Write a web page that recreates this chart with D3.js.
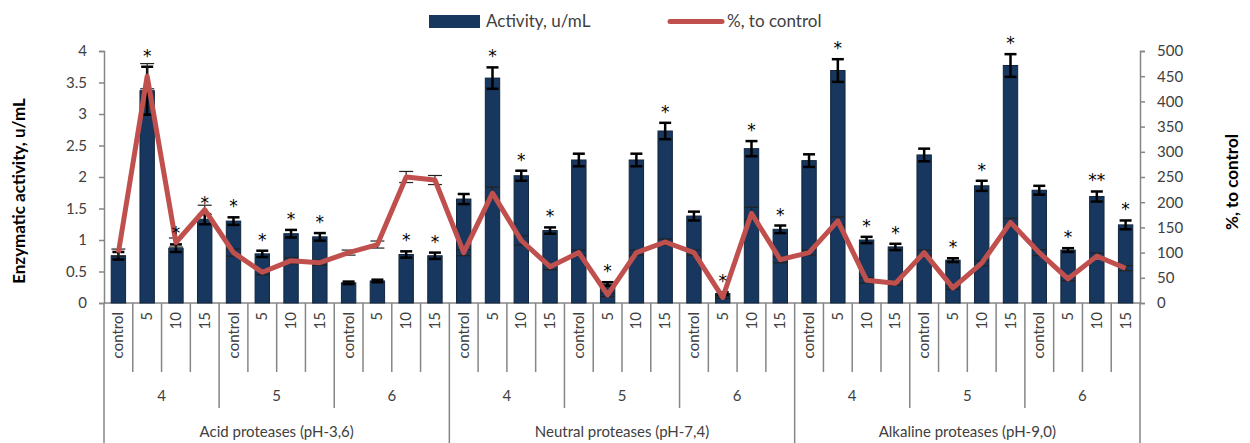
<!DOCTYPE html>
<html>
<head>
<meta charset="utf-8">
<script src="https://cdn.jsdelivr.net/npm/d3@7"></script>
<style>
  body { margin: 0; background: #fff; }
  svg text { font-family: Lato, "Open Sans", sans-serif; }
</style>
</head>
<body>
<div id="chart"></div>
<script>
// chart values
var groups = ["Acid proteases (pH-3,6)", "Neutral proteases (pH-7,4)", "Alkaline proteases (pH-9,0)"];
var phLevels = ["4", "5", "6"];
var conditions = ["control", "5", "10", "15"];

var activity = [
    0.75, 3.37, 0.87, 1.33, 1.30, 0.78, 1.10, 1.05, 0.32, 0.35, 0.77, 0.75,
    1.65, 3.57, 2.02, 1.15, 2.27, 0.30, 2.27, 2.73, 1.38, 0.15, 2.45, 1.17,
    2.26, 3.69, 1.00, 0.89, 2.35, 0.68, 1.86, 3.77, 1.79, 0.84, 1.69, 1.24
];
var activityErr = [
    0.06, 0.38, 0.06, 0.08, 0.06, 0.05, 0.06, 0.06, 0.02, 0.02, 0.05, 0.05,
    0.08, 0.17, 0.08, 0.05, 0.10, 0.03, 0.10, 0.13, 0.07, 0.02, 0.12, 0.06,
    0.10, 0.18, 0.05, 0.05, 0.10, 0.03, 0.08, 0.18, 0.07, 0.03, 0.08, 0.07
];
var percent = [
    100, 450, 120, 185, 100, 61, 84, 80, 100, 116, 250, 244,
    100, 218, 124, 72, 100, 16, 100, 121, 100, 11, 178, 86,
    100, 163, 45, 39, 100, 30, 79, 160, 100, 48, 93, 69
];
var percentErr = [
    7, 25, 9, 9, 7, 5, 6, 5, 5, 7, 11, 9,
    6, 12, 9, 6, 5, 3, 5, 6, 5, 2, 12, 6,
    5, 8, 5, 4, 5, 3, 5, 8, 6, 4, 6, 5
];
var stars = [
    "", "*", "*", "*", "*", "*", "*", "*", "", "", "*", "*",
    "", "*", "*", "*", "", "*", "", "*", "", "*", "*", "*",
    "", "*", "*", "*", "", "*", "*", "*", "", "*", "**", "*"
];

var W = 1250, H = 443;
var pLeft = 104, pRight = 1140, pTop = 51, pBottom = 303;
var axisColor = "#868686", textColor = "#404040";
var barColor = "#17375E", lineColor = "#C0504D";

var svg = d3.select("#chart").append("svg")
    .attr("width", W)
    .attr("height", H);

var idx = d3.range(activity.length);

var x = d3.scaleBand()
    .domain(idx)
    .range([pLeft, pRight])
    .paddingInner(0.5)
    .paddingOuter(0.25);
var step = (pRight - pLeft) / idx.length;
function cx(i) { return pLeft + step * (i + 0.5); }

var y = d3.scaleLinear().domain([0, 4]).range([pBottom, pTop]);
var y2 = d3.scaleLinear().domain([0, 500]).range([pBottom, pTop]);

// left axis
var yAxis = svg.append("g")
    .attr("transform", "translate(" + pLeft + ",0)")
    .call(d3.axisLeft(y).tickValues(d3.range(0, 4.01, 0.5)).tickSize(5).tickPadding(12)
        .tickFormat(function(d) { return d3.format("")(d); }));
// right axis
var yAxis2 = svg.append("g")
    .attr("transform", "translate(" + pRight + ",0)")
    .call(d3.axisRight(y2).tickValues(d3.range(0, 501, 50)).tickSize(5).tickPadding(12));

[yAxis, yAxis2].forEach(function(ax) {
    ax.select(".domain").attr("stroke", axisColor).attr("stroke-width", 1.5);
    ax.selectAll(".tick line").attr("stroke", axisColor).attr("stroke-width", 1.5);
    ax.selectAll(".tick text")
        .attr("fill", textColor)
        .style("font-size", "15px")
        .style("font-family", "Lato, sans-serif");
});

// x axis baseline + category separators
var xg = svg.append("g");
xg.append("line")
    .attr("x1", pLeft).attr("x2", pRight)
    .attr("y1", pBottom).attr("y2", pBottom)
    .attr("stroke", axisColor).attr("stroke-width", 1.5);

xg.selectAll("line.sep")
    .data(d3.range(idx.length + 1))
    .enter().append("line")
    .attr("class", "sep")
    .attr("x1", function(i) { return pLeft + step * i; })
    .attr("x2", function(i) { return pLeft + step * i; })
    .attr("y1", pBottom)
    .attr("y2", function(i) {
        if (i % 12 == 0) return H;
        if (i % 4 == 0) return 408;
        return 372;
    })
    .attr("stroke", axisColor).attr("stroke-width", 1.5);

// condition labels (rotated)
xg.selectAll("text.cond")
    .data(idx)
    .enter().append("text")
    .attr("class", "cond")
    .attr("transform", function(i) { return "translate(" + (cx(i) + 5) + "," + (pBottom + 9) + ") rotate(-90)"; })
    .attr("text-anchor", "end")
    .attr("fill", textColor)
    .style("font-size", "15px")
    .text(function(i) { return conditions[i % 4]; });

// pH labels
xg.selectAll("text.ph")
    .data(d3.range(9))
    .enter().append("text")
    .attr("class", "ph")
    .attr("x", function(j) { return pLeft + step * (j * 4 + 2); })
    .attr("y", 401)
    .attr("text-anchor", "middle")
    .attr("fill", textColor)
    .style("font-size", "15px")
    .text(function(j) { return phLevels[j % 3]; });

// group labels
xg.selectAll("text.grp")
    .data(groups)
    .enter().append("text")
    .attr("class", "grp")
    .attr("x", function(d, j) { return pLeft + step * (j * 12 + 6); })
    .attr("y", 437)
    .attr("text-anchor", "middle")
    .attr("fill", textColor)
    .style("font-size", "15px")
    .text(function(d) { return d; });

// bars
svg.append("g").selectAll("rect")
    .data(idx)
    .enter().append("rect")
    .attr("x", function(i) { return x(i); })
    .attr("width", x.bandwidth())
    .attr("y", function(i) { return y(activity[i]); })
    .attr("height", function(i) { return pBottom - y(activity[i]); })
    .attr("fill", barColor)
    .attr("stroke", "#10263f")
    .attr("stroke-width", 1);

// bar error bars
var be = svg.append("g").attr("stroke", "#000").attr("stroke-width", 2.5);
idx.forEach(function(i) {
    var c = cx(i), lo = y(activity[i] - activityErr[i]), hi = y(activity[i] + activityErr[i]);
    be.append("line").attr("x1", c).attr("x2", c).attr("y1", lo).attr("y2", hi);
    be.append("line").attr("x1", c - 6).attr("x2", c + 6).attr("y1", hi).attr("y2", hi);
    be.append("line").attr("x1", c - 6).attr("x2", c + 6).attr("y1", lo).attr("y2", lo);
});

// line error bars (thin)
var le = svg.append("g").attr("stroke", "#222").attr("stroke-width", 1.2);
idx.forEach(function(i) {
    var c = cx(i), lo = y2(percent[i] - percentErr[i]), hi = y2(percent[i] + percentErr[i]);
    le.append("line").attr("x1", c).attr("x2", c).attr("y1", lo).attr("y2", hi);
    le.append("line").attr("x1", c - 7).attr("x2", c + 7).attr("y1", hi).attr("y2", hi);
    le.append("line").attr("x1", c - 7).attr("x2", c + 7).attr("y1", lo).attr("y2", lo);
});

// % to control line
svg.append("path")
    .datum(idx)
    .attr("fill", "none")
    .attr("stroke", lineColor)
    .attr("stroke-width", 5)
    .attr("stroke-linejoin", "round")
    .attr("d", d3.line()
        .x(function(i) { return cx(i); })
        .y(function(i) { return y2(percent[i]); }));

// significance stars
svg.append("g").selectAll("text")
    .data(idx.filter(function(i) { return stars[i] != ""; }))
    .enter().append("text")
    .attr("x", function(i) { return cx(i); })
    .attr("y", function(i) { return y(activity[i] + activityErr[i]) - 5; })
    .attr("text-anchor", "middle")
    .attr("fill", "#000")
    .style("font-size", "17px")
    .style("font-family", "'DejaVu Sans', sans-serif")
    .text(function(i) { return stars[i]; });

// axis titles
svg.append("text")
    .attr("transform", "translate(25,191) rotate(-90)")
    .attr("text-anchor", "middle")
    .attr("fill", "#000")
    .style("font-size", "17px")
    .style("font-weight", "bold")
    .text("Enzymatic activity, u/mL");

svg.append("text")
    .attr("transform", "translate(1238,182) rotate(-90)")
    .attr("text-anchor", "middle")
    .attr("fill", "#000")
    .style("font-size", "17px")
    .style("font-weight", "bold")
    .text("%, to control");

// legend
var lg = svg.append("g");
lg.append("rect")
    .attr("x", 429).attr("y", 15).attr("width", 51).attr("height", 13)
    .attr("fill", barColor);
lg.append("text")
    .attr("x", 486).attr("y", 27)
    .attr("fill", textColor)
    .style("font-size", "17px")
    .text("Activity, u/mL");
lg.append("line")
    .attr("x1", 670).attr("x2", 722).attr("y1", 21.5).attr("y2", 21.5)
    .attr("stroke", lineColor).attr("stroke-width", 5).attr("stroke-linecap", "round");
lg.append("text")
    .attr("x", 727).attr("y", 27)
    .attr("fill", textColor)
    .style("font-size", "17px")
    .text("%, to control");
</script>
</body>
</html>
